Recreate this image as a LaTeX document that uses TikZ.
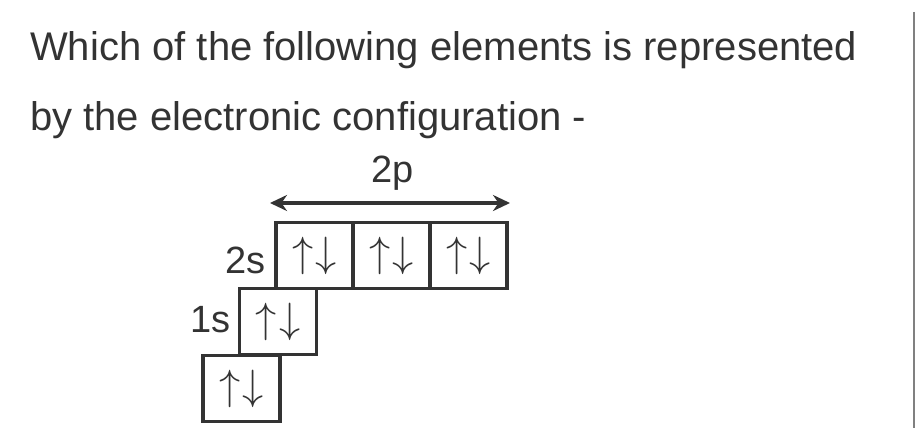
\documentclass[tikz,border=0pt]{standalone}
\usepackage{fontspec}
\setmainfont{Liberation Sans}
\usetikzlibrary{arrows.meta}
\definecolor{ink}{HTML}{333333}
\newcommand{\updn}{\scalebox{1.7}{\fontsize{24.88}{24.88}\selectfont$\uparrow\mkern1mu\downarrow$}}

\begin{document}
\begin{tikzpicture}[
    x=1pt, y=-1pt, % pixel-like units, (0,0) at top left
    orb/.style={draw=ink, line width=3.2pt, minimum width=77pt, minimum height=66pt,
                inner sep=0pt, text=ink},
    lbl/.style={text=ink, font=\fontsize{38}{38}\selectfont, inner sep=0pt},
    arr/.style={{Stealth[length=17pt,width=16pt]}-{Stealth[length=17pt,width=16pt]},
                line width=4pt, draw=ink}
]
\useasboundingbox (0,0) rectangle (916,428);
% question text
\node[lbl, anchor=base west, font=\fontsize{40}{40}\selectfont] (q1) at (30,60)
  {Which of the following elements is represented};
\node[lbl, anchor=base west, font=\fontsize{40}{40}\selectfont] (q2) at (30,130)
  {by the electronic configuration -};
% orbital boxes
\node[orb] (b0) at (241.5,388.5) {\updn};
\node[orb] (b1s) at (278,321.5) {\updn};
\node[orb] (b2s) at (314.5,255.5) {\updn};
\foreach \i in {1,2}
  \node[orb] (b2p\i) at (314.5+77*\i,255.5) {\updn};
% labels
\node[lbl, anchor=base east] (l2s) at (266,273) {2s};
\node[lbl, anchor=base east] (l1s) at (231,332) {1s};
\node[lbl, anchor=base] (l2p) at (393,182) {2p};
\coordinate (pl) at (270,203);
\coordinate (pr) at (510,203);
\draw[arr] (pl) -- (pr);
% scan edge
\coordinate (e1) at (914,12);
\coordinate (e2) at (914,428);
\draw[gray, line width=1.5pt] (e1) -- (e2);
\end{tikzpicture}
\end{document}
